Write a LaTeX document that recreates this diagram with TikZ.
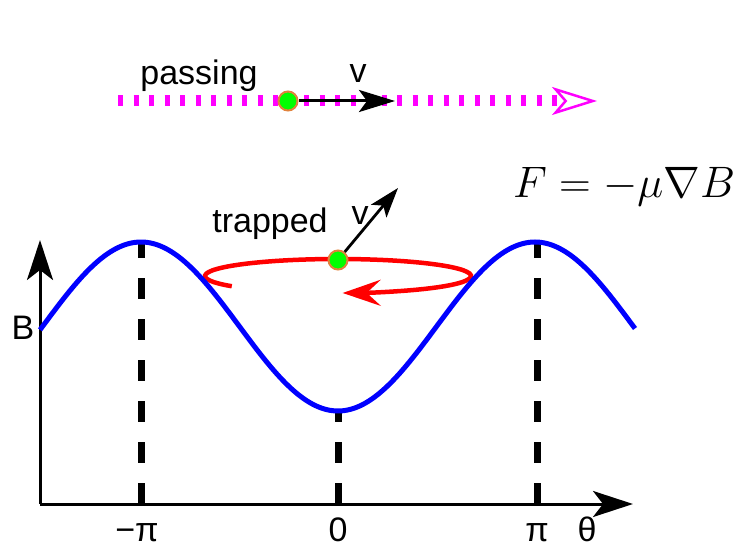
\documentclass[tikz,border=0pt]{standalone}
\usepackage[no-math]{fontspec}
\setmainfont{Liberation Sans}
\usepackage{tikz}
\usetikzlibrary{arrows.meta}
\definecolor{curveblue}{RGB}{0,0,255}
\definecolor{passmagenta}{RGB}{255,0,255}
\definecolor{orbitred}{RGB}{255,0,0}
\definecolor{dotgreen}{RGB}{0,255,0}
\definecolor{dotrim}{RGB}{225,130,60}
\newcommand{\biglabel}{\fontsize{34}{40}\selectfont}
\tikzset{
  axisline/.style={line width=3pt, -{Stealth[length=40pt, width=26pt, inset=10pt]}},
  guide/.style={line width=7pt, dash pattern=on 21pt off 20pt},
  particle/.style={circle, fill=dotgreen, draw=dotrim, line width=2pt, minimum size=19pt, inner sep=0pt},
  velocity/.style={line width=3pt, -{Stealth[length=36pt, width=22pt, inset=8pt]}},
  lab/.style={font=\biglabel, anchor=base, inner sep=0pt}
}

\begin{document}
\begin{tikzpicture}[x=1pt, y=1pt]
    \useasboundingbox (0,0) rectangle (735,551);
    \coordinate (origin) at (40,47);
    \coordinate (ytip) at (40,311);
    \coordinate (xtip) at (633,47);
    \draw[axisline] (origin) -- (ytip);
    \draw[axisline] (origin) -- (xtip);
    \foreach \x/\top in {141/311, 338/138, 537/311}
    {
        \draw[guide] (\x,47) -- (\x,\top);
    }
    \foreach \x/\lab in {137/−π, 338/0, 537/π, 587/θ}
    {
        \node[lab] (tick\x) at (\x,10) {\lab};
    }
    \node[lab] (blab) at (23,211) {B};

    \coordinate (orbitc) at (338,275);
    \draw[orbitred, line width=4.5pt, -{Stealth[length=38pt, width=26pt, inset=14pt]}]
        (orbitc) ++(217:133 and 17) arc[start angle=217, end angle=-88, x radius=133, y radius=17];
    \draw[curveblue, line width=5pt] plot[domain=40:635, samples=120, smooth]
        (\x, {224.5+84.5*cos((\x-141)/394*360)});

    \coordinate (pstart) at (118,450);
    \coordinate (pend) at (597,450);
    \draw[passmagenta, line width=11pt, dash pattern=on 5pt off 10.5pt,
        -{Stealth[open, length=45pt, width=28pt, inset=12pt, line width=2.5pt]}] (pstart) -- (pend);
    \node[particle] (pdot) at (288,450) {};
    \coordinate (pv) at (395,450);
    \draw[velocity] (pdot) -- (pv);
    \node[lab] (passlab) at (199,466) {passing};
    \node[lab] (pvlab) at (358,468) {v};

    \node[particle] (tdot) at (338,291) {};
    \coordinate (tv) at (398,363);
    \draw[line width=2.8pt, -{Stealth[length=30pt, width=20pt, inset=7pt]}] (tdot) -- (tv);
    \node[lab] (traplab) at (270,318) {trapped};
    \node[lab] (tvlab) at (360,326) {v};

    \node[anchor=base, inner sep=0pt] (force) at (624,353)
        {\scalebox{1.77}{\fontsize{24.88}{30}\selectfont $F=-\mu\nabla B$}};
\end{tikzpicture}
\end{document}
